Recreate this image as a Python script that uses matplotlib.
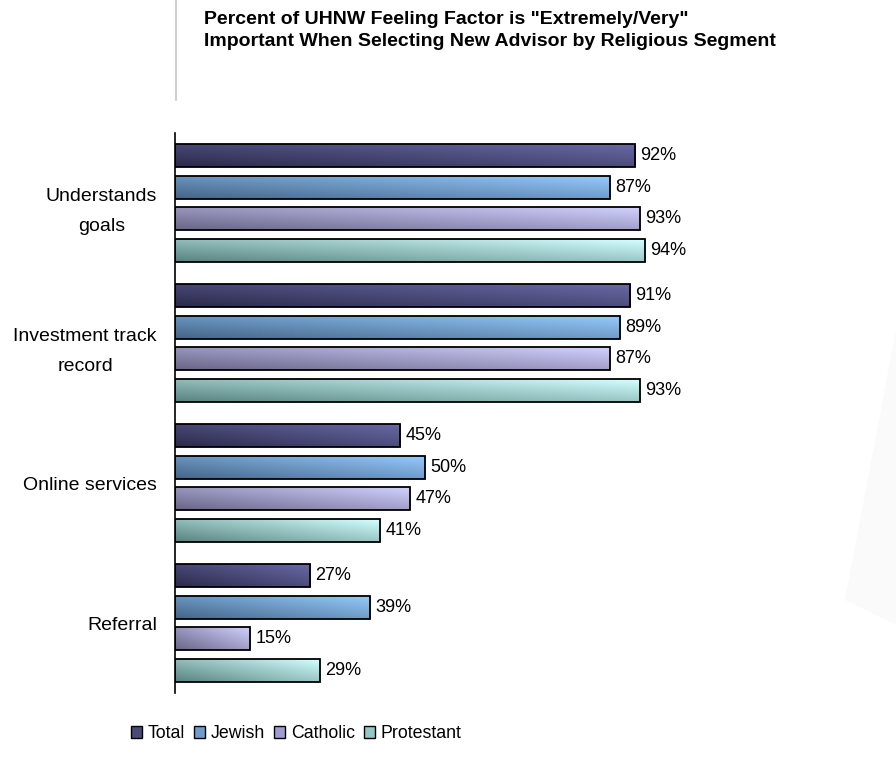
import numpy as np
import matplotlib
matplotlib.use('Agg')
import matplotlib.pyplot as plt
from matplotlib.patches import Patch, Polygon
from matplotlib.colors import LinearSegmentedColormap
from matplotlib.lines import Line2D

plt.rcParams['font.family'] = ['Liberation Sans', 'DejaVu Sans']

# survey data
categories = ['Understands\ngoals', 'Investment track\nrecord', 'Online services', 'Referral']
segments = ['Total', 'Jewish', 'Catholic', 'Protestant']
total = [92, 91, 45, 27]
jewish = [87, 89, 50, 39]
catholic = [93, 87, 47, 15]
protestant = [94, 93, 41, 29]

title = ('Percent of UHNW Feeling Factor is "Extremely/Very"\n'
         'Important When Selecting New Advisor by Religious Segment')

# dark (bottom-left) -> light (top-right) for each segment
shades = [('#2c2b4c', '#6868a4'),
          ('#456688', '#94c8fc'),
          ('#6a6688', '#d0d0ff'),
          ('#5a8480', '#d0ffff')]
mid_colors = ['#4a4a78', '#6f9ccc', '#9e9cd0', '#94c8c4']

fig = plt.figure(figsize=(8.96, 7.7), dpi=100)
ax = fig.add_axes([175 / 896, 1 - 693 / 770, 500 / 896, 560 / 770])

# faint backdrop sheen on the right edge
fig.patches.append(Polygon([[1.0, 1 - 330 / 770], [1.0, 1 - 625 / 770],
                            [845 / 896, 1 - 600 / 770]],
                           closed=True, transform=fig.transFigure,
                           facecolor='#fafafa', edgecolor='none', zorder=0))

# thin separator line next to the title
fig.add_artist(Line2D([176 / 896, 176 / 896], [1.0, 1 - 100 / 770],
                      transform=fig.transFigure, color='#c8c8c8', lw=1.2))

series = [total, jewish, catholic, protestant]
y = np.arange(len(categories))
pitch = 0.2264
height = 0.164

gx, gy = np.meshgrid(np.linspace(0, 1, 64), np.linspace(0, 1, 16))
grad = 0.55 * gx + 0.45 * (1 - gy)  # imshow origin upper -> row 0 is top

for i, vals in enumerate(series):
    offs = y + (i - 1.5) * pitch
    bars = ax.barh(offs, vals, height=height, facecolor='none',
                   edgecolor='black', linewidth=1.3, zorder=3)
    cmap = LinearSegmentedColormap.from_list('seg%d' % i, shades[i])
    for bar, v in zip(bars, vals):
        x0, y0 = bar.get_x(), bar.get_y()
        w, h = bar.get_width(), bar.get_height()
        im = ax.imshow(grad, cmap=cmap, aspect='auto', interpolation='bilinear',
                       extent=(x0, x0 + w, y0 + h, y0), zorder=2,
                       vmin=0, vmax=1)
        im.set_clip_path(bar)
        ax.annotate('%d%%' % v, xy=(x0 + w, y0 + h / 2), xytext=(4, 0),
                    textcoords='offset points', va='center', ha='left',
                    fontsize=13, color='black')

ax.set_xlim(0, 100)
ax.set_ylim(len(categories) - 0.5, -0.5)
ax.set_yticks(y)
ax.set_yticklabels(categories, fontsize=14, multialignment='center',
                   linespacing=2.0)
ax.tick_params(axis='y', length=0, pad=13)
ax.set_xticks([])
for side in ['top', 'right', 'bottom']:
    ax.spines[side].set_visible(False)
ax.spines['left'].set_linewidth(1.2)
ax.spines['left'].set_zorder(4)

fig.text(204 / 896, 1 - 11 / 770, title, ha='left', va='top',
         fontsize=14, fontweight='bold', linespacing=1.35)

handles = [Patch(facecolor=c, edgecolor='black', linewidth=1.0) for c in mid_colors]
fig.legend(handles, segments, loc='center', bbox_to_anchor=(296 / 896, 1 - 734 / 770),
           ncol=4, frameon=False, fontsize=12.8, handlelength=0.65, handleheight=0.65,
           handletextpad=0.3, columnspacing=0.5)

fig.savefig('out.png', dpi=100)
